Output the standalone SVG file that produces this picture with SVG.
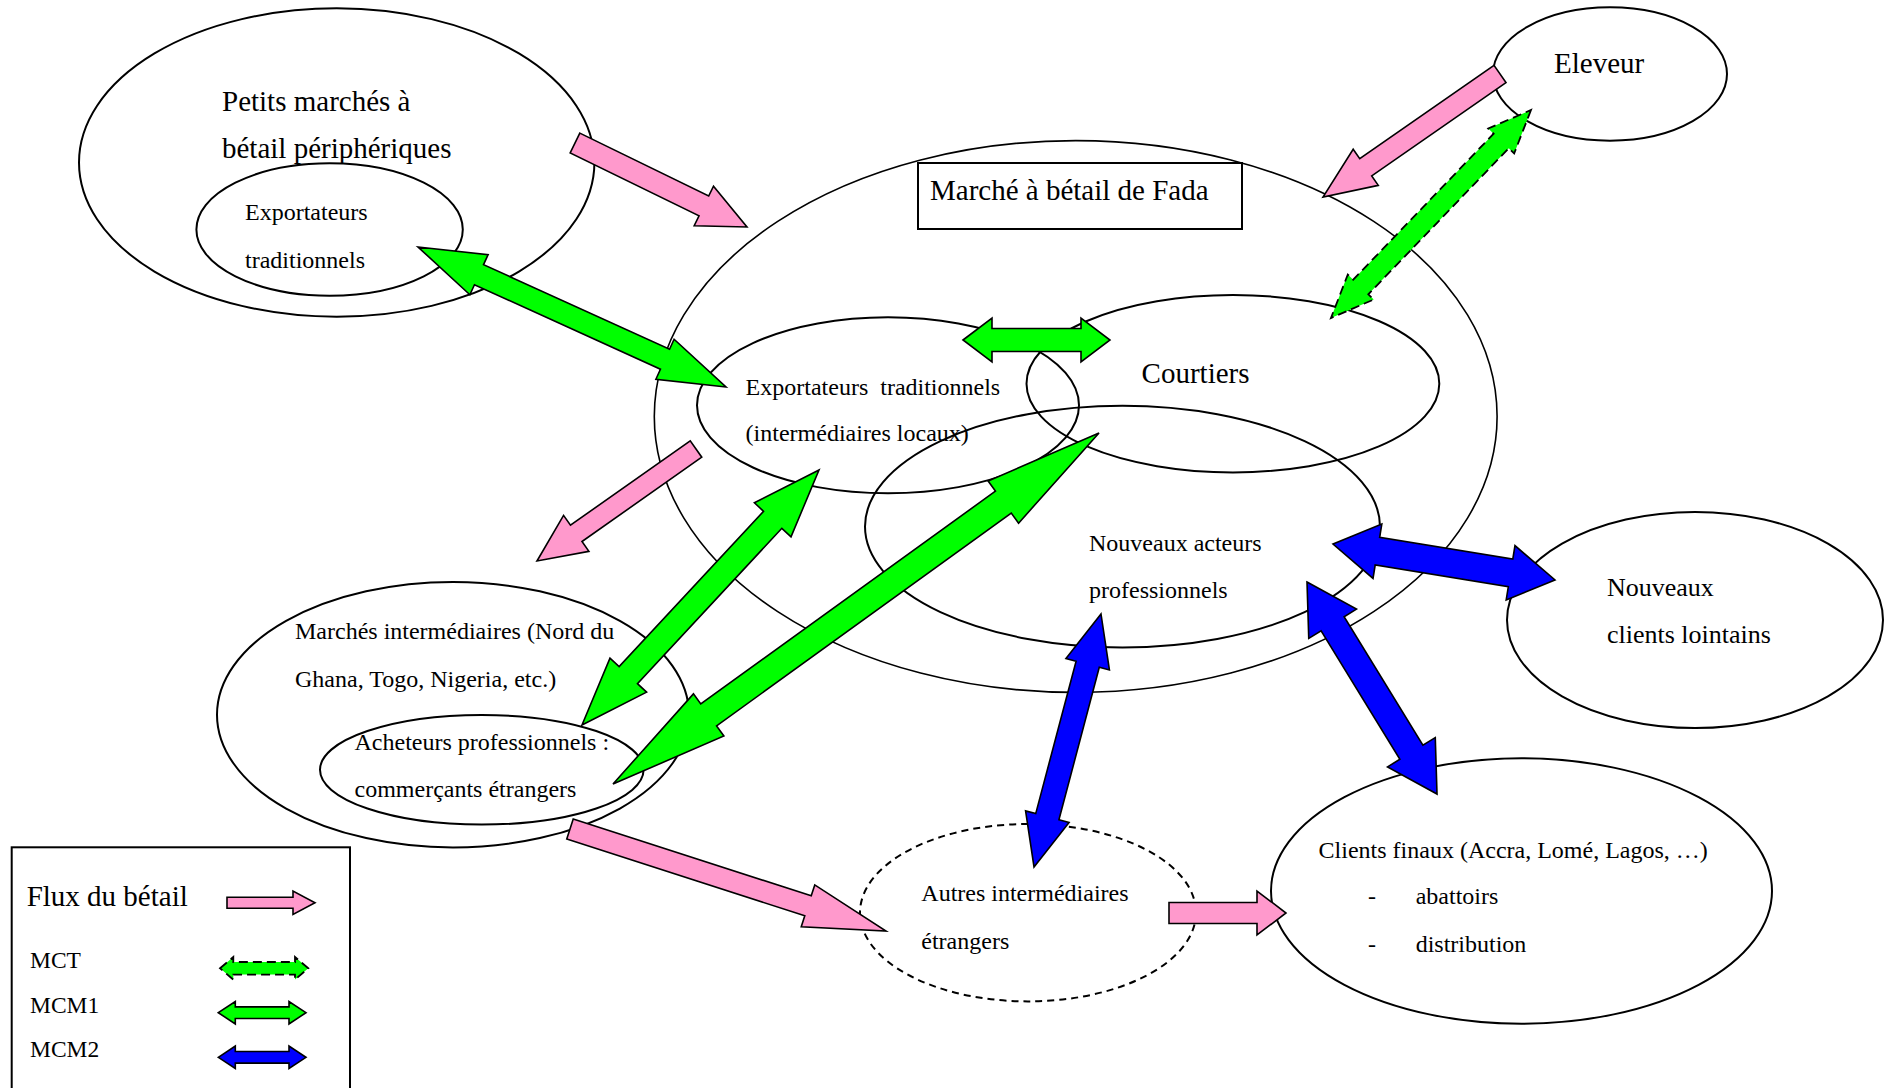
<svg xmlns="http://www.w3.org/2000/svg" width="1885" height="1088" viewBox="0 0 1885 1088">
<style>
.n{fill:none;stroke:#000;stroke-width:2}
.thin{stroke-width:1.6}
.dsh{stroke-dasharray:7 5}
.t{font-family:"Liberation Serif","Times New Roman",serif;fill:#000}
.L{font-size:29px}
.M{font-size:26px}
.S{font-size:24px}
.pk{fill:#FF99CC;stroke:#000;stroke-width:1.6;stroke-linejoin:miter}
.gr{fill:#00FF00;stroke:#000;stroke-width:1.6;stroke-linejoin:miter}
.bl{fill:#0000FF;stroke:#000;stroke-width:1.6;stroke-linejoin:miter}
.gd{fill:#00FF00;stroke:#000;stroke-width:1.8;stroke-dasharray:9 5}
</style>
<rect width="1885" height="1088" fill="#fff"/>

<g id="petits-marches">
<ellipse class="n" cx="336.7" cy="162.5" rx="257.7" ry="154.2"/>
<text class="t L" x="222" y="111">Petits marchés à</text>
<text class="t L" x="222" y="158">bétail périphériques</text>
</g>
<g id="exportateurs-peripheriques">
<ellipse class="n" cx="329.6" cy="229.5" rx="133.2" ry="66.2"/>
<text class="t S" x="245" y="220">Exportateurs</text>
<text class="t S" x="245" y="268">traditionnels</text>
</g>
<g id="marche-fada">
<ellipse class="n thin" cx="1075.7" cy="416.5" rx="421.4" ry="275.9"/>
<rect class="n" x="918" y="163" width="324" height="66"/>
<text class="t L" x="930" y="200">Marché à bétail de Fada</text>
</g>
<g id="eleveur">
<ellipse class="n" cx="1610" cy="74" rx="117" ry="66.7"/>
<text class="t L" x="1554" y="73">Eleveur</text>
</g>
<g id="courtiers">
<ellipse class="n" cx="1232.9" cy="383.7" rx="206.4" ry="88.7"/>
<text class="t L" x="1141.6" y="382.7">Courtiers</text>
</g>
<g id="exportateurs-locaux">
<ellipse class="n" cx="888" cy="405.3" rx="191" ry="88"/>
<text class="t S" x="745.6" y="395" style="white-space:pre">Exportateurs  traditionnels</text>
<text class="t S" x="745.6" y="441">(intermédiaires locaux)</text>
</g>
<g id="nouveaux-acteurs">
<ellipse class="n" cx="1122.5" cy="526.6" rx="257.5" ry="120.9"/>
<text class="t S" x="1089" y="550.5">Nouveaux acteurs</text>
<text class="t S" x="1089" y="598.2">professionnels</text>
</g>
<g id="nouveaux-clients">
<ellipse class="n" cx="1695" cy="620" rx="188" ry="108"/>
<text class="t M" x="1607" y="595.5">Nouveaux</text>
<text class="t M" x="1607" y="642.8">clients lointains</text>
</g>
<g id="marches-intermediaires">
<ellipse class="n" cx="453" cy="714.7" rx="236" ry="132.7"/>
<text class="t S" x="295" y="639">Marchés intermédiaires (Nord du</text>
<text class="t S" x="295" y="687.3">Ghana, Togo, Nigeria, etc.)</text>
</g>
<g id="acheteurs">
<ellipse class="n" cx="481.8" cy="769.8" rx="161.8" ry="54.8"/>
<text class="t S" x="354.5" y="749.6">Acheteurs professionnels :</text>
<text class="t S" x="354.5" y="797">commerçants étrangers</text>
</g>
<g id="autres-intermediaires">
<ellipse class="n dsh" cx="1028" cy="912.7" rx="168" ry="88.7"/>
<text class="t S" x="921.3" y="900.5">Autres intermédiaires</text>
<text class="t S" x="921.3" y="949">étrangers</text>
</g>
<g id="clients-finaux">
<ellipse class="n" cx="1521.5" cy="891" rx="250.5" ry="132.7"/>
<text class="t S" x="1318.6" y="858">Clients finaux (Accra, Lomé, Lagos, …)</text>
<text class="t S" x="1368" y="904.4">-</text>
<text class="t S" x="1415.7" y="904.4">abattoirs</text>
<text class="t S" x="1368" y="952">-</text>
<text class="t S" x="1415.7" y="952">distribution</text>
</g>

<g id="connectors">
<path class="pk" transform="translate(575,143) rotate(26.03)" d="M0,-11 L143.4,-11 L143.4,-22 L191.4,0 L143.4,22 L143.4,11 L0,11 Z"/>
<path class="pk" transform="translate(1500,74) rotate(145.21)" d="M0,-10.5 L163.5,-10.5 L163.5,-22 L215.5,0 L163.5,22 L163.5,10.5 L0,10.5 Z"/>
<path class="pk" transform="translate(696,449) rotate(144.84)" d="M0,-10 L146.5,-10 L146.5,-22 L194.5,0 L146.5,22 L146.5,10 L0,10 Z"/>
<path class="pk" transform="translate(570,829) rotate(17.89)" d="M0,-10.5 L250.1,-10.5 L250.1,-22 L332.1,0 L250.1,22 L250.1,10.5 L0,10.5 Z"/>
<path class="pk" transform="translate(1169,913)" d="M0,-10.5 L88,-10.5 L88,-22 L117,0 L88,22 L88,10.5 L0,10.5 Z"/>

<path class="gr" transform="translate(418,247) rotate(24.44)" d="M0,0 L67,-22 L67,-11 L271.3,-11 L271.3,-22 L338.3,0 L271.3,22 L271.3,11 L67,11 L67,22 Z"/>
<path class="gr" transform="translate(963,340)" d="M0,0 L29,-22 L29,-11.5 L118,-11.5 L118,-22 L147,0 L118,22 L118,11.5 L29,11.5 L29,22 Z"/>
<path class="gr" transform="translate(819,470) rotate(132.91)" d="M0,0 L68,-25 L68,-12.5 L280.1,-12.5 L280.1,-25 L348.1,0 L280.1,25 L280.1,12.5 L68,12.5 L68,25 Z"/>
<path class="gr" transform="translate(1099,433) rotate(144.16)" d="M0,0 L118,-26 L118,-13.5 L481.5,-13.5 L481.5,-26 L599.5,0 L481.5,26 L481.5,13.5 L118,13.5 L118,26 Z"/>
<path class="gd" transform="translate(1531,110) rotate(133.88)" d="M0,0 L43,-18 L43,-10.5 L245.6,-10.5 L245.6,-18 L288.6,0 L245.6,18 L245.6,10.5 L43,10.5 L43,18 Z"/>

<path class="bl" transform="translate(1333,544) rotate(9.21)" d="M0,0 L45,-27.5 L45,-14 L179.9,-14 L179.9,-27.5 L224.9,0 L179.9,27.5 L179.9,14 L45,14 L45,27.5 Z"/>
<path class="bl" transform="translate(1307,582) rotate(58.48)" d="M0,0 L49,-28 L49,-13.5 L199.7,-13.5 L199.7,-28 L248.7,0 L199.7,28 L199.7,13.5 L49,13.5 L49,28 Z"/>
<path class="bl" transform="translate(1101,614) rotate(104.83)" d="M0,0 L52,-22.5 L52,-12 L209.7,-12 L209.7,-22.5 L261.7,0 L209.7,22.5 L209.7,12 L52,12 L52,22.5 Z"/>
</g>

<g id="legend">
<rect class="n" x="11.7" y="847.3" width="338.3" height="260"/>
<text class="t L" x="26.7" y="906">Flux du bétail</text>
<path class="pk" transform="translate(227,902.7)" d="M0,-5.5 L66,-5.5 L66,-11.7 L88,0 L66,11.7 L66,5.5 L0,5.5 Z"/>
<text class="t" style="font-size:23.5px" x="30" y="968.3">MCT</text>
<path class="gd" transform="translate(220,968.3)" d="M0,0 L13.3,-11.3 L13.3,-6.3 L75,-6.3 L75,-11.3 L88.3,0 L75,11.3 L75,6.3 L13.3,6.3 L13.3,11.3 Z"/>
<text class="t" style="font-size:23.5px" x="30" y="1013.3">MCM1</text>
<path class="gr" transform="translate(218.3,1012.7)" d="M0,0 L17,-11.2 L17,-5.8 L70.7,-5.8 L70.7,-11.2 L87.7,0 L70.7,11.2 L70.7,5.8 L17,5.8 L17,11.2 Z"/>
<text class="t" style="font-size:23.5px" x="30" y="1057.3">MCM2</text>
<path class="bl" transform="translate(218.3,1057.3)" d="M0,0 L17,-11.2 L17,-5.8 L70.7,-5.8 L70.7,-11.2 L87.7,0 L70.7,11.2 L70.7,5.8 L17,5.8 L17,11.2 Z"/>
</g>
</svg>
